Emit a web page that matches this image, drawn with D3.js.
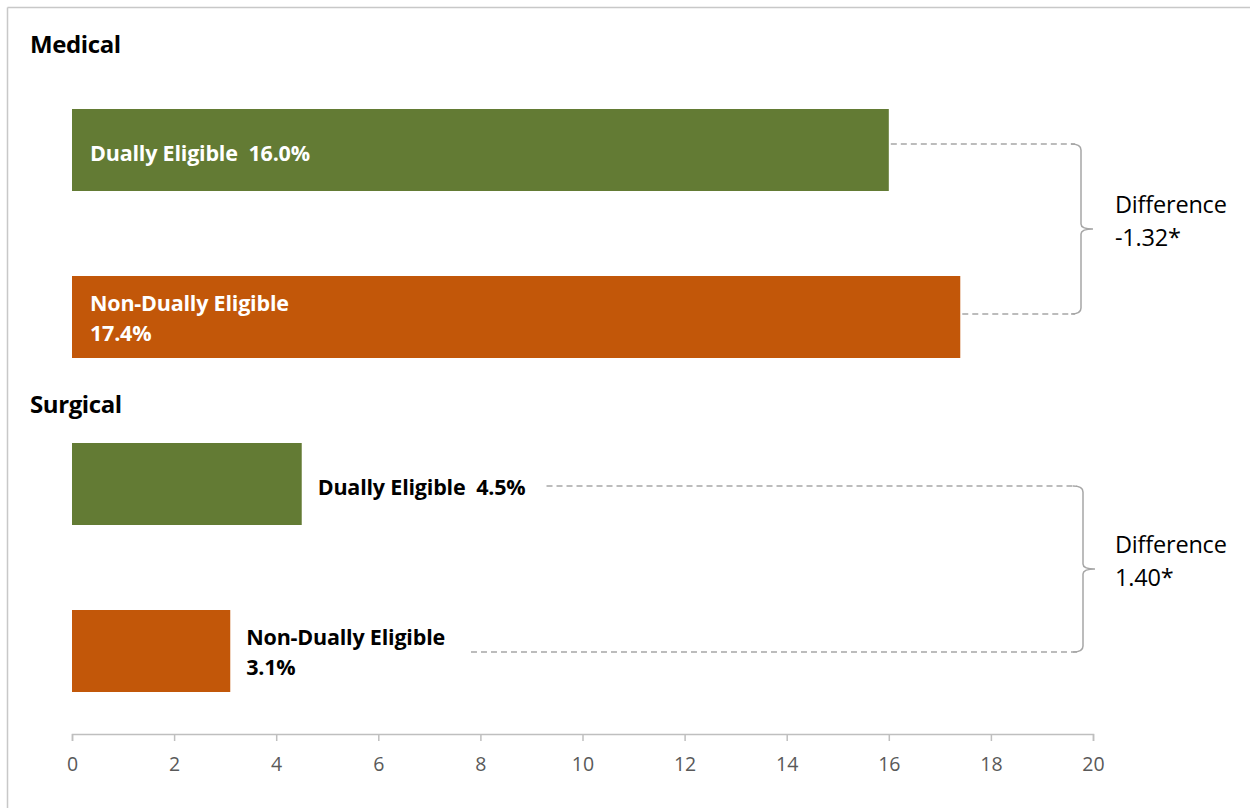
<!DOCTYPE html>
<html>
<head>
<meta charset="utf-8">
<script src="https://cdn.jsdelivr.net/npm/d3@7"></script>
<style>
  html, body { margin: 0; padding: 0; background: #fff; }
  svg { display: block; }
  text { font-family: "Open Sans", Lato, sans-serif; }
</style>
</head>
<body>
<svg id="chart" width="1250" height="808"></svg>
<script>
// Readmission rates by admission type (percent)
const groups = ["Medical", "Surgical"];
const dualValues = [16.0, 4.5];
const nonDualValues = [17.4, 3.1];
const differences = ["-1.32*", "1.40*"];
const tickValues = [0, 2, 4, 6, 8, 10, 12, 14, 16, 18, 20];
const seriesNames = ["Dually Eligible", "Non-Dually Eligible"];

const colors = { dual: "#637b34", nonDual: "#c25709" };

const svg = d3.select("#chart");
const W = 1250, H = 808;

// light frame along the top and left edges
svg.append("line").attr("x1", 7.5).attr("x2", W).attr("y1", 7.5).attr("y2", 7.5)
  .attr("stroke", "#c8c8c8").attr("stroke-width", 1.5);
svg.append("line").attr("x1", 7.5).attr("x2", 7.5).attr("y1", 7.5).attr("y2", H)
  .attr("stroke", "#c8c8c8").attr("stroke-width", 1.5);

const x = d3.scaleLinear().domain([0, 20]).range([72, 1093]);

// one row per bar: group x series
const rows = [];
groups.forEach((g, i) => {
  rows.push({ key: g + "|dual", group: g, gi: i, series: "dual", name: seriesNames[0], value: dualValues[i] });
  rows.push({ key: g + "|non", group: g, gi: i, series: "nonDual", name: seriesNames[1], value: nonDualValues[i] });
});

const y = d3.scaleBand().domain(rows.map(r => r.key)).range([109, 692]).paddingInner(0.509).paddingOuter(0);

// group titles
groups.forEach((g, i) => {
  const firstKey = g + "|dual";
  svg.append("text")
    .attr("x", 30).attr("y", i === 0 ? y(firstKey) - 56 : y(firstKey) - 30)
    .attr("font-size", 24).attr("font-weight", "bold").attr("fill", "#000")
    .attr("letter-spacing", -0.4)
    .text(g);
});

// bars
svg.selectAll("rect.bar").data(rows).join("rect")
  .attr("class", "bar")
  .attr("x", x(0))
  .attr("y", d => y(d.key))
  .attr("width", d => x(d.value) - x(0))
  .attr("height", y.bandwidth())
  .attr("fill", d => colors[d.series]);

// bar labels: inside for long bars, outside for short bars
const labelEnds = {};
rows.forEach(d => {
  const inside = d.value > 10;
  const tx = inside ? x(0) + 18 : x(d.value) + 16;
  const top = y(d.key);
  const t = svg.append("text")
    .attr("font-size", 21.5).attr("font-weight", "bold")
    .attr("letter-spacing", -0.2)
    .attr("fill", inside ? "#fff" : "#000");
  const valueText = d3.format(".1f")(d.value) + "%";
  if (d.series === "dual") {
    t.attr("x", tx).attr("y", top + 52)
      .attr("xml:space", "preserve")
      .text(d.name + "  " + valueText);
  } else {
    t.append("tspan").attr("x", tx).attr("y", top + 35).text(d.name);
    t.append("tspan").attr("x", tx).attr("y", top + 65).text(valueText);
  }
  const bb = t.node().getBBox();
  labelEnds[d.key] = inside ? x(d.value) : bb.x + bb.width;
});

// connectors and braces showing the difference
const guide = "#a6a6a6";
groups.forEach((g, i) => {
  const kd = g + "|dual", kn = g + "|non";
  const yTop = y(kd) + (i === 0 ? 35 : 43);
  const yBot = y(kn) + (i === 0 ? 38 : 42);
  const bx = i === 0 ? 1081 : 1083;
  const x0Top = labelEnds[kd] + (rows.find(r => r.key === kd).value > 10 ? 2 : 21);
  const x0Bot = labelEnds[kn] + (rows.find(r => r.key === kn).value > 10 ? 2 : 26);

  svg.append("line").attr("x1", x0Top).attr("x2", bx - 6).attr("y1", yTop).attr("y2", yTop)
    .attr("stroke", guide).attr("stroke-width", 1.5).attr("stroke-dasharray", "6,4");
  svg.append("line").attr("x1", x0Bot).attr("x2", bx - 6).attr("y1", yBot).attr("y2", yBot)
    .attr("stroke", guide).attr("stroke-width", 1.5).attr("stroke-dasharray", "6,4");

  const mid = (yTop + yBot) / 2;
  const p = d3.path();
  p.moveTo(bx - 10, yTop);
  p.quadraticCurveTo(bx, yTop, bx, yTop + 6);
  p.lineTo(bx, mid - 5);
  p.quadraticCurveTo(bx, mid, bx + 12, mid);
  p.quadraticCurveTo(bx, mid, bx, mid + 5);
  p.lineTo(bx, yBot - 6);
  p.quadraticCurveTo(bx, yBot, bx - 10, yBot);
  svg.append("path").attr("d", p.toString())
    .attr("fill", "none").attr("stroke", guide).attr("stroke-width", 1.5);

  const lt = svg.append("text").attr("font-size", 23.5).attr("fill", "#000")
    .attr("letter-spacing", -0.2);
  lt.append("tspan").attr("x", 1115).attr("y", mid - 16).text("Difference");
  lt.append("tspan").attr("x", 1115).attr("y", mid + 17).text(differences[i]);
});

// x axis
const axis = d3.axisBottom(x).tickValues(tickValues).tickSize(7).tickSizeOuter(7).tickPadding(16)
  .tickFormat(d3.format("d"));
const gAxis = svg.append("g").attr("transform", "translate(0,734)").call(axis);
gAxis.select(".domain").attr("stroke", "#bfbfbf").attr("stroke-width", 1.5);
gAxis.selectAll(".tick line").attr("stroke", "#bfbfbf").attr("stroke-width", 1.5);
gAxis.selectAll(".tick text").attr("fill", "#595959").attr("font-size", 19.5)
  .attr("font-family", "'Open Sans', Lato, sans-serif");
</script>
</body>
</html>
